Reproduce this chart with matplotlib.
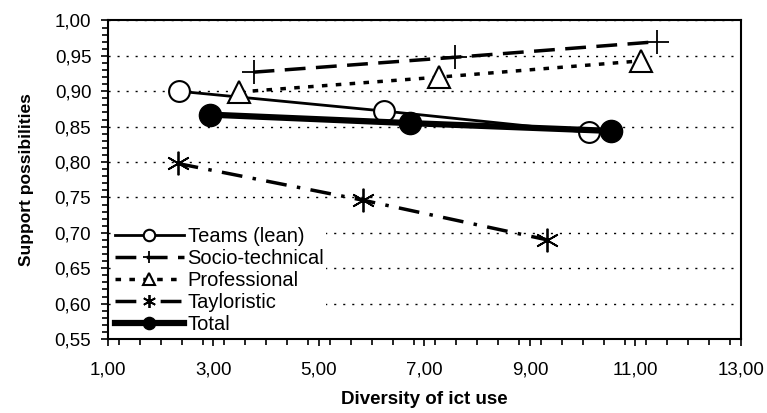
import numpy as np
import matplotlib
matplotlib.use("Agg")
import matplotlib.pyplot as plt
from matplotlib.ticker import MultipleLocator, FixedLocator, FuncFormatter

plt.rcParams['font.family'] = ['Liberation Sans', 'DejaVu Sans']

# data
teams_x = [2.35, 6.24, 10.12]
teams_y = [0.900, 0.872, 0.842]
socio_x = [3.76, 7.58, 11.41]
socio_y = [0.927, 0.948, 0.970]
prof_x = [3.48, 7.28, 11.11]
prof_y = [0.899, 0.920, 0.943]
taylor_x = [2.32, 5.84, 9.33]
taylor_y = [0.798, 0.746, 0.690]
total_x = [2.93, 6.73, 10.53]
total_y = [0.867, 0.855, 0.844]

x_ticks = [1, 3, 5, 7, 9, 11, 13]

fig = plt.figure(figsize=(7.67, 4.13), dpi=100)
ax = fig.add_axes([0.1408, 0.1792, 0.8253, 0.7712])

ax.plot(teams_x, teams_y, color='black', lw=2, marker='o', ms=15,
        mfc='white', mec='black', mew=1.5, label='Teams (lean)', zorder=3)
ax.plot(socio_x, socio_y, color='black', lw=2.5, ls=(0, (6, 3)), marker='+',
        ms=17, mew=1.3, label='Socio-technical', zorder=3)
ax.plot(prof_x, prof_y, color='black', lw=2.5, ls=(0, (1.6, 2.4)), marker='^',
        ms=16, mfc='white', mec='black', mew=1.5, label='Professional', zorder=3)
ax.plot(taylor_x, taylor_y, color='black', lw=2.5, ls=(0, (6, 3, 1, 3)),
        marker=(6, 2, 0), ms=17, mew=1.3, label='Tayloristic', zorder=3)
ax.plot(total_x, total_y, color='black', lw=4.5, marker='o', ms=16,
        mfc='black', mec='black', label='Total', zorder=4)

ax.set_xlim(1, 13)
ax.set_ylim(0.55, 1.0)
ax.xaxis.set_major_locator(FixedLocator(x_ticks))
ax.xaxis.set_minor_locator(MultipleLocator(0.4))
ax.yaxis.set_major_locator(MultipleLocator(0.05))
ax.yaxis.set_minor_locator(MultipleLocator(0.01))
comma = FuncFormatter(lambda v, p: ('%.2f' % v).replace('.', ','))
ax.xaxis.set_major_formatter(comma)
ax.yaxis.set_major_formatter(comma)
ax.tick_params(which='both', direction='out', width=1.2, labelsize=13.5)
ax.tick_params(which='major', length=5)
ax.tick_params(which='minor', length=4)
ax.tick_params(axis='x', pad=11)
ax.tick_params(axis='y', pad=7)
for s in ax.spines.values():
    s.set_linewidth(1.5)

ax.yaxis.grid(True, which='major', color='black', lw=1, ls=(0, (1.5, 5)))
ax.set_axisbelow(True)

ax.set_xlabel('Diversity of ict use', fontsize=13.5, fontweight='bold', labelpad=9)
ax.set_ylabel('Support possibilities', fontsize=12.5, fontweight='bold', labelpad=15)

leg = ax.legend(loc='lower left', bbox_to_anchor=(0.008, 0.008), fontsize=14.5,
                markerscale=0.55, handlelength=3.4, handletextpad=0.2,
                labelspacing=0.15, borderaxespad=0.0, borderpad=0.1,
                frameon=True, fancybox=False, framealpha=1)
leg.get_frame().set_edgecolor('none')
leg.set_zorder(5)

plt.savefig('out.png', dpi=100)
